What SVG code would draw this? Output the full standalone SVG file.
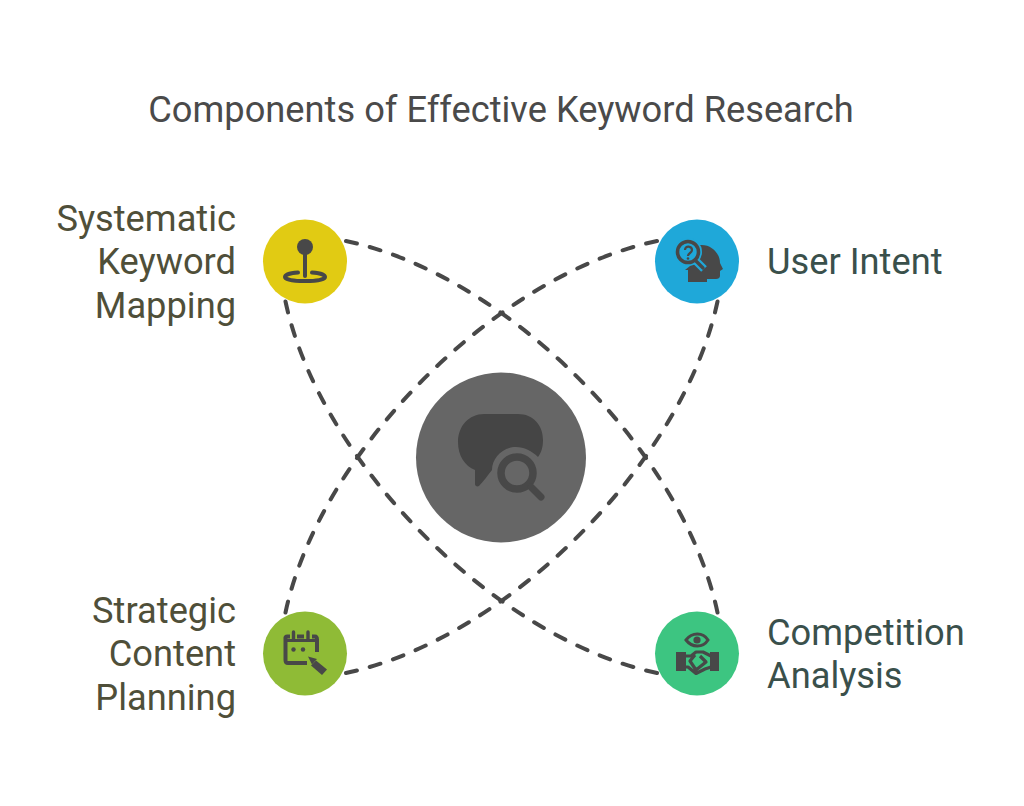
<svg xmlns="http://www.w3.org/2000/svg" width="1024" height="806" viewBox="0 0 1024 806">
<style>
text{font-family:Roboto,"Liberation Sans",sans-serif;font-size:36.25px}
.title{fill:#4a4a4a;text-anchor:middle}
.l{fill:#4f4f39;text-anchor:end}
.r{fill:#3a504b}
.arc{fill:none;stroke:#484848;stroke-width:4;stroke-linecap:round;stroke-dasharray:11 13}
.ic{fill:#484848}
.icl{fill:none;stroke:#484848}
</style>
<rect width="1024" height="806" fill="#fff"/>
<text class="title" x="501" y="121.500">Components of Effective Keyword Research</text>
<g id="connectors">
<path class="arc" pathLength="539" d="M346 241C507 275 683 451 717.500 612.500"/>
<path class="arc" pathLength="539" d="M657 241C496 275 320 451 285.500 612.500"/>
<path class="arc" pathLength="539" d="M285.500 301.500C320 463 496 639 657 673"/>
<path class="arc" pathLength="539" d="M717.500 301.500C683 463 507 639 346 673"/>
</g>
<g id="center">
<circle cx="501" cy="457.500" r="85" fill="#666"/>
<path fill="#454545" d="M484 414H518C533 414 543 425 543 440C543 448 541 453 538 457C532 451 524 447 516 447C503 447 492 458 492 470C488 475 483 482 479 486C477 487 475 486 475 484V470C465 466 458 456 458 442C458 426 469 414 484 414Z"/>
<circle class="icl" cx="517" cy="473" r="16" stroke-width="7.500"/>
<path class="icl" d="M531 487L541 497" stroke-width="7" stroke-linecap="round"/>
</g>
<g id="node-mapping">
<circle cx="305" cy="261.500" r="42" fill="#e1cb13"/>
<circle class="ic" cx="305" cy="247" r="8"/>
<path class="icl" d="M305 252V276" stroke-width="4" stroke-linecap="round"/>
<path class="icl" d="M298 272.500C290 273 285 275 285 277C285 280 294 281 305 281C316 281 325 280 325 277C325 275 320 273 312 272.500" stroke-width="4" stroke-linecap="round"/>
<text class="l"><tspan x="236" y="230.500">Systematic</tspan><tspan x="236" y="274">Keyword</tspan><tspan x="236" y="317.500">Mapping</tspan></text>
</g>
<g id="node-intent">
<circle cx="697" cy="261.500" r="42" fill="#1fa8d9"/>
<path class="ic" d="M700 245C711 244 720 253 720 263L723 269L720 271V276C720 278 718 279 716 279H707V282H688V270H685L690 266L700 250Z"/>
<circle cx="688" cy="252" r="14" fill="#1fa8d9"/>
<path d="M695 260L704 269" fill="none" stroke="#1fa8d9" stroke-width="8"/>
<circle class="icl" cx="688" cy="252" r="10.500" stroke-width="3.600"/>
<path class="icl" d="M695 260L703 268" stroke-width="3.400" stroke-linecap="round"/>
<path class="icl" d="M685 250C685 245 692 246 692 250C692 253 688 253 688 256" stroke-width="2.200"/>
<circle class="ic" cx="688" cy="258.500" r="1.300"/>
<text class="r" x="767" y="274">User Intent</text>
</g>
<g id="node-content">
<circle cx="305" cy="653.500" r="42" fill="#8fbb36"/>
<path class="icl" d="M290 636.500H287C285 636.500 285.500 638 285.500 640V660C285.500 662 286 663 288 663H307M297 636.500H304M312 636.500H315C317 636.500 317 638 317 640V652" stroke-width="4"/>
<path class="ic" d="M284 639H319V642H284Z"/>
<path class="icl" d="M293.500 632V640M308 632V640" stroke-width="3.400" stroke-linecap="round"/>
<circle class="ic" cx="293.500" cy="649.500" r="2.200"/><circle class="ic" cx="303" cy="649.500" r="2.200"/>
<path class="ic" d="M308 656.500L317 659L312 664.500Z"/>
<path class="ic" d="M316 660.500L327 669.500L322 675L311 665.500Z"/>
<text class="l"><tspan x="236" y="622.500">Strategic</tspan><tspan x="236" y="666">Content</tspan><tspan x="236" y="709.500">Planning</tspan></text>
</g>
<g id="node-competition">
<circle cx="697" cy="653.500" r="42" fill="#3dc581"/>
<path class="icl" d="M686 640C692 632 703 632 708 640C703 648 692 648 686 640Z" stroke-width="3"/>
<circle class="ic" cx="697" cy="640" r="3.600"/>
<path class="ic" d="M676 652H686V671H676ZM710 652H719V671H710Z"/>
<path class="icl" d="M685 656H691L696 652H703L711 656M685 667H688L696 673.500L705 669L711 667M695 655L690 661L696 670L706 662L700 656" stroke-width="3.200" stroke-linejoin="round"/>
<text class="r"><tspan x="767" y="644.500">Competition</tspan><tspan x="767" y="688">Analysis</tspan></text>
</g>
</svg>
